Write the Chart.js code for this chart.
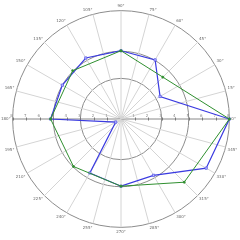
<!DOCTYPE html>
<html><head><meta charset="utf-8">
<script src="https://cdn.jsdelivr.net/npm/chart.js@4/dist/chart.umd.min.js"></script>
<style>html,body{margin:0;padding:0;background:#fff}#wrap{width:240px;height:240px}</style>
</head><body><div id="wrap"><canvas id="c" width="240" height="240"></canvas></div>
<script>
// Angular categories (degrees, mathematical orientation: 0 at right, counter-clockwise)
const spokeAngles = [0,15,30,45,60,75,90,105,120,135,150,165,180,195,210,225,240,255,270,285,300,315,330,345];
// Radial tick values
const radialTicks = [1,2,3,4,5,6,7,8];
const gridCircles = [3,5,8];
// Series 1 (blue) – every 30°
const blueAngles = [0,30,60,90,120,150,180,210,240,270,300,330];
const blueValues = [8.0,3.33,5.04,5.04,5.2,5.0,5.2,0.45,4.6,4.96,4.8,7.26];
// Series 2 (green) – every 45°
const greenAngles = [0,45,90,135,180,225,270,315];
const greenValues = [8.0,4.37,5.04,5.04,5.2,4.96,4.96,6.6];

// Radar draws clockwise from the top: build label order 90,75,...,0,345,...,105
const order = spokeAngles.map((_, i) => ((90 - 15 * i) % 360 + 360) % 360);
const labels = order.map(a => a + '°');
function series(angs, vals) {
  return order.map(a => { const k = angs.indexOf(a); return k >= 0 ? vals[k] : null; });
}

const hAxis = {
  id: 'hAxis',
  beforeDatasetsDraw(chart) {
    const s = chart.scales.r, ctx = chart.ctx;
    ctx.save();
    ctx.font = '4px "DejaVu Sans"';
    ctx.fillStyle = '#888';
    ctx.strokeStyle = '#777';
    ctx.lineWidth = 1;
    ctx.textAlign = 'center';
    ctx.textBaseline = 'bottom';
    s.ticks.forEach(t => {
      if (t.value === 0) return;
      const d = s.getDistanceFromCenterForValue(t.value);
      [-1, 1].forEach(sg => {
        const x = s.xCenter + sg * d;
        ctx.fillText(t.label, x - 1, s.yCenter - 1);
        ctx.beginPath();
        ctx.moveTo(Math.round(x) + 0.5, s.yCenter - 1.5);
        ctx.lineTo(Math.round(x) + 0.5, s.yCenter + 1.5);
        ctx.stroke();
      });
    });
    ctx.restore();
  }
};

new Chart(document.getElementById('c'), {
  type: 'radar',
  data: {
    labels: labels,
    datasets: [
      { data: series(greenAngles, greenValues), borderColor: '#2f8f2f', borderWidth: 1,
        pointRadius: 1, pointBackgroundColor: '#2f8f2f', pointBorderColor: '#2f8f2f',
        fill: false, spanGaps: true, tension: 0 },
      { data: series(blueAngles, blueValues), borderColor: '#3a3ae0', borderWidth: 1.2,
        pointRadius: 1.6, pointStyle: 'rect', pointBackgroundColor: '#c4c4ff', pointBorderColor: '#5050e8', pointBorderWidth: 0.7,
        fill: false, spanGaps: true, tension: 0 }
    ]
  },
  options: {
    responsive: false,
    animation: false,
    plugins: { legend: { display: false }, tooltip: { enabled: false } },
    layout: { padding: 0 },
    scales: {
      r: {
        min: 0, max: 8,
        ticks: { stepSize: 1, display: false },
        grid: { circular: true, lineWidth: 1,
          color: c => gridCircles.includes(c.tick.value) ? '#8c8c8c' : 'rgba(0,0,0,0)' },
        angleLines: { lineWidth: 1,
          color: c => (c.index === 6 || c.index === 18) ? '#888' : '#d4d4d4' },
        pointLabels: { font: { size: 4, family: 'DejaVu Sans' }, color: '#666', padding: 2 }
      }
    }
  },
  plugins: [hAxis]
});
</script>
</body></html>
